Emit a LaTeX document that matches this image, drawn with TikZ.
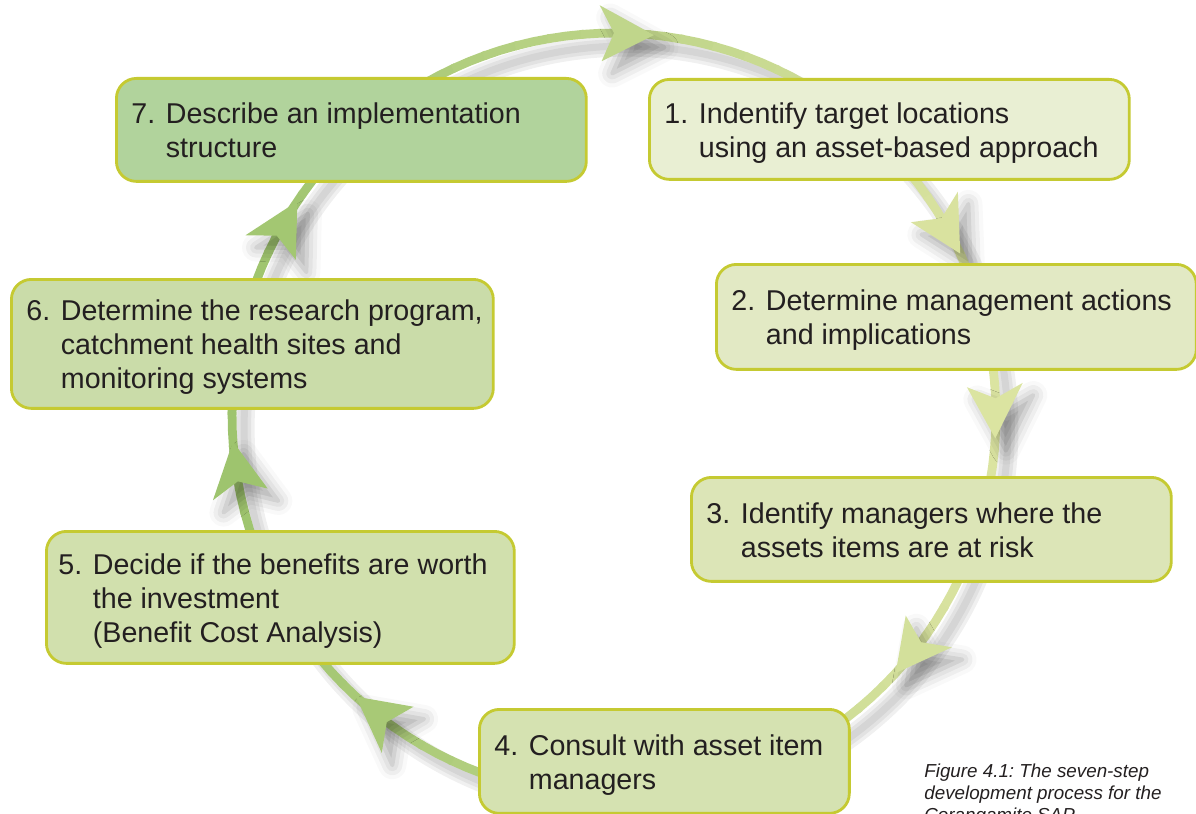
\documentclass[tikz,border=0pt]{standalone}
\usepackage{fontspec}
\setmainfont{Liberation Sans}
\usepackage{tikz}
\usetikzlibrary{shadows.blur}

\definecolor{boxline}{RGB}{197,202,50}
\definecolor{txt}{RGB}{35,31,32}
\definecolor{ringpale}{RGB}{220,228,162}
\definecolor{ringgreen}{RGB}{158,196,110}
\definecolor{fillone}{RGB}{233,239,211}
\definecolor{filltwo}{RGB}{226,233,196}
\definecolor{fillthree}{RGB}{220,229,183}
\definecolor{fillfour}{RGB}{213,226,177}
\definecolor{fillfive}{RGB}{209,224,173}
\definecolor{fillsix}{RGB}{202,220,169}
\definecolor{fillseven}{RGB}{177,211,156}

% number, then the lines hanging after it
\newcommand{\stepitem}[3]{\raisebox{-0.08cm}[\height][\depth]{\makebox[#1][l]{\begin{tabular}{@{}l@{ }l@{}}#2&\begin{tabular}[t]{@{}l@{}}#3\end{tabular}\end{tabular}}}}

\tikzset{
  stepbox/.style={draw=boxline, line width=1.6pt, rounded corners=0.4cm, inner xsep=0.3cm, inner ysep=0pt,
    anchor=north west, text=txt, font=\fontsize{16.3}{19.3}\selectfont},
  tipshadow/.style={blur shadow={shadow xshift=6pt, shadow yshift=-7pt, shadow blur radius=8pt, shadow opacity=35}}
}

\begin{document}
\begin{tikzpicture}[x=0.02cm,y=-0.02cm]
\useasboundingbox (0,0) rectangle (1196,814);
% soft shadow of the ring
\foreach \w in {12,8,4} \draw[black, opacity=.06, line width=\w pt] (626,428) circle[radius=7.64cm];
% ring, pale on the right and greener on the left
\foreach \a in {0,5,...,355} {
  \pgfmathtruncatemacro{\p}{50+50*cos(\a+2.5)}
  \pgfmathsetmacro{\b}{\a+5.5}
  \draw[ringpale!\p!ringgreen, line width=5pt] plot[domain=\a:\b, samples=3] ({614+382*cos(\x)},{415+382*sin(\x)});
}
\foreach \a in {-84,-25,3.5,42.5,132.5,176,214} {
  \pgfmathtruncatemacro{\p}{50+50*cos(\a)}
  \fill[ringpale!\p!ringgreen, tipshadow] ({614+382*cos(\a)},{415+382*sin(\a)})
    -- ({614+410*cos(\a-8)},{415+410*sin(\a-8)}) -- ({614+382*cos(\a-6)},{415+382*sin(\a-6)})
    -- ({614+354*cos(\a-8)},{415+354*sin(\a-8)}) -- cycle;
}
\node[stepbox, fill=fillseven, minimum width=9.4cm, minimum height=2.06cm] (s7) at (115,77) {\stepitem{8.8cm}{7.}{Describe an implementation\\structure}};
\node[stepbox, fill=fillone, minimum width=9.6cm, minimum height=2cm] (s1) at (648,78) {\stepitem{9cm}{1.}{Indentify target locations\\using an asset-based approach}};
\node[stepbox, fill=filltwo, minimum width=9.6cm, minimum height=2.1cm] (s2) at (715,263) {\stepitem{9cm}{2.}{Determine management actions\\and implications}};
\node[stepbox, fill=fillthree, minimum width=9.6cm, minimum height=2.08cm] (s3) at (690,476) {\stepitem{9cm}{3.}{Identify managers where the\\assets items are at risk}};
\node[stepbox, fill=fillfour, minimum width=7.4cm, minimum height=2.08cm] (s4) at (478,708) {\stepitem{6.8cm}{4.}{Consult with asset item\\managers}};
\node[stepbox, fill=fillfive, minimum width=9.36cm, minimum height=2.64cm, inner xsep=0.24cm] (s5) at (45,530) {\stepitem{8.88cm}{5.}{Decide if the benefits are worth\\the investment\\(Benefit Cost Analysis)}};
\node[stepbox, fill=fillsix, minimum width=9.64cm, minimum height=2.58cm] (s6) at (10,278) {\stepitem{9.04cm}{6.}{Determine the research program,\\catchment health sites and\\monitoring systems}};
\node[anchor=north west, inner sep=0pt, align=left, text=txt, font=\fontsize{10.7}{12.5}\selectfont\itshape\frenchspacing] (caption) at (924,764)
  {Figure 4.1: The seven-step\\development process for the\\Corangamite SAP};
\end{tikzpicture}
\end{document}
